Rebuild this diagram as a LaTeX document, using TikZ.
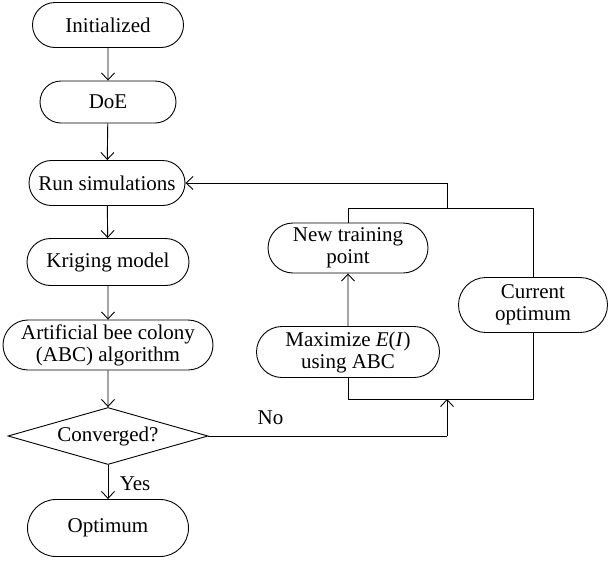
\documentclass[tikz,border=0pt]{standalone}
\usepackage{fontspec}
\setmainfont{Liberation Serif}
\usetikzlibrary{shapes.geometric,shapes.misc,arrows.meta}
\begin{document}
\begin{tikzpicture}[x=1pt,y=-1pt,
  font=\fontsize{21}{22}\selectfont,
  every path/.style={line width=0.9pt},
  term/.style={draw, rounded rectangle, inner sep=0pt, align=center},
  dec/.style={draw, diamond, inner sep=0pt, aspect=3.5, minimum width=200pt, minimum height=57pt},
  arr/.style={-{Straight Barb[length=7pt,width=13pt]}}
]
\useasboundingbox (0,0) rectangle (608,560);
\node[term, minimum width=151pt, minimum height=45pt] (init) at (108,25) {Initialized};
\node[term, minimum width=136pt, minimum height=42pt] (doe) at (108,102) {DoE};
\node[term, minimum width=156pt, minimum height=45pt] (run) at (107,183) {Run simulations};
\node[term, minimum width=162pt, minimum height=47pt] (krig) at (108,262) {Kriging model};
\node[term, minimum width=210pt, minimum height=50pt] (abc) at (108,345) {Artificial bee colony\\(ABC) algorithm};
\node[dec] (conv) at (108,436) {Converged?};
\node[term, minimum width=161pt, minimum height=57pt] (opt) at (108,528) {Optimum};
\node[term, minimum width=160pt, minimum height=50pt] (newtp) at (348,248) {New training\\point};
\node[term, minimum width=183pt, minimum height=51pt] (maxi) at (348,352) {Maximize \textit{E}(\textit{I})\\using ABC};
\node[term, minimum width=149pt, minimum height=55pt] (curopt) at (533,305) {Current\\optimum};

\coordinate (nocorner) at (447,436);
\coordinate (nojoin) at (447,399);
\coordinate (bl) at (348,399);
\coordinate (br) at (533,399);
\coordinate (tl) at (348,208);
\coordinate (tr) at (533,208);
\coordinate (topjoin) at (447,208);
\coordinate (topcorner) at (447,183);

\draw[arr] (init) -- (doe);
\draw[arr] (doe) -- (run);
\draw[arr] (run) -- (krig);
\draw[arr] (krig) -- (abc);
\draw[arr] (abc) -- (conv);
\draw[arr] (conv) -- node[right, xshift=8pt, yshift=-2pt] {Yes} (opt);
\draw (conv.east) -- node[above, pos=0.26, yshift=8pt] {No} (nocorner);
\draw[arr] (nocorner) -- (nojoin);
\draw[arr] (maxi) -- (newtp);
\draw (maxi.south) -- (bl) -- (br) -- (curopt.south);
\draw (curopt.north) -- (tr) -- (tl) -- (newtp.north);
\draw[arr] (topjoin) -- (topcorner) -- (run.east);
\end{tikzpicture}
\end{document}
